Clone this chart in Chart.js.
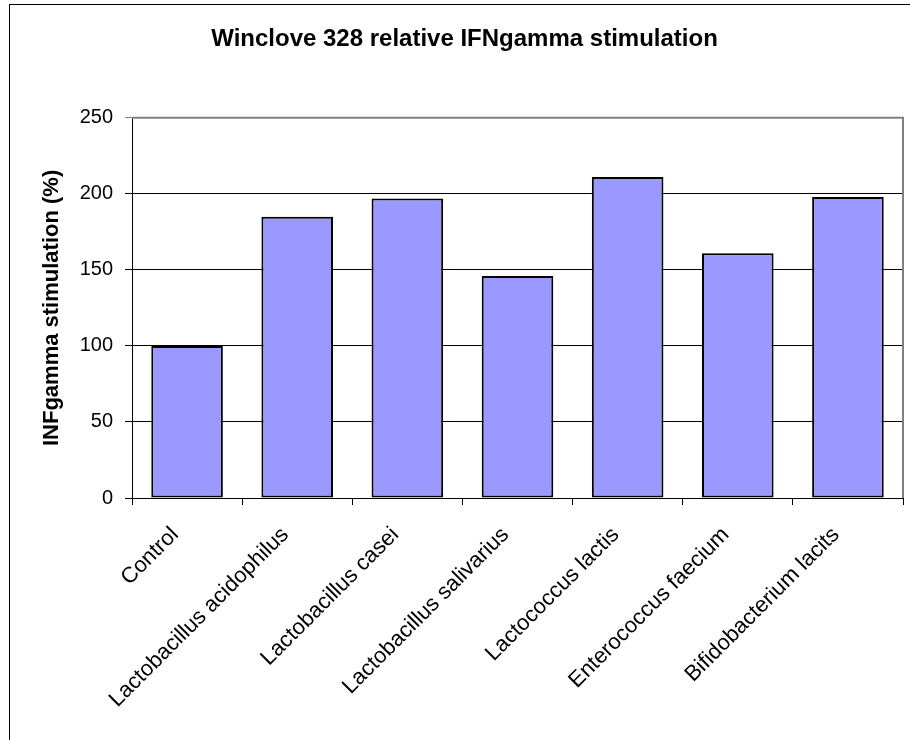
<!DOCTYPE html>
<html>
<head>
<meta charset="utf-8">
<script src="https://cdn.jsdelivr.net/npm/chart.js@4.4.0/dist/chart.umd.min.js"></script>
<style>
  html, body { margin: 0; padding: 0; background: #fff; }
  #wrap { position: relative; width: 910px; height: 740px; }
  #frame { position: absolute; left: 9px; top: 4px; width: 920px; height: 760px; border: 1.5px solid #000; box-sizing: border-box; pointer-events: none; }
</style>
</head>
<body>
<div id="wrap">
  <canvas id="barChart" width="910" height="740"></canvas>
  <div id="frame"></div>
</div>
<script>
const strains = ["Control", "Lactobacillus acidophilus", "Lactobacillus casei", "Lactobacillus salivarius",
  "Lactococcus lactis", "Enterococcus faecium", "Bifidobacterium lacits"];
const stimulation = [100, 185, 197, 146, 211, 161, 198];
const yTicks = [0, 50, 100, 150, 200, 250];

// grey plot-area frame on top and right, like the Excel original
const plotFrame = {
  id: "plotFrame",
  beforeDatasetsDraw(chart) {
    const { ctx, chartArea: a } = chart;
    ctx.save();
    ctx.strokeStyle = "#808080";
    ctx.lineWidth = 2;
    ctx.beginPath();
    ctx.moveTo(a.left, a.top);
    ctx.lineTo(a.right, a.top);
    ctx.lineTo(a.right, a.bottom);
    ctx.stroke();
    ctx.restore();
  }
};

new Chart(document.getElementById("barChart"), {
  type: "bar",
  data: {
    labels: strains,
    datasets: [{
      data: stimulation,
      backgroundColor: "#9999FF",
      borderColor: "#000000",
      borderWidth: 2,
      borderSkipped: false,
      barPercentage: 0.65,
      categoryPercentage: 1
    }]
  },
  options: {
    responsive: false,
    animation: false,
    layout: { padding: { left: 26, right: 7, top: 0, bottom: 0 } },
    scales: {
      x: {
        grid: { offset: true, drawOnChartArea: false, color: "#000", tickLength: 7 },
        border: { color: "#000", width: 1 },
        ticks: {
          autoSkip: false, minRotation: 45, maxRotation: 45, labelOffset: -12, padding: 17,
          color: "#000", font: { family: "'Liberation Sans', Arial", size: 22 }
        },
        afterFit(scale) { scale.height = 242; }
      },
      y: {
        min: 0, max: 250,
        afterBuildTicks(scale) { scale.ticks = yTicks.map(v => ({ value: v })); },
        grid: {
          color: ctx => (ctx.tick && ctx.tick.value === 250 ? "#808080" : "#000"),
          tickLength: 7
        },
        border: { color: "#000", width: 1 },
        ticks: { padding: 12, color: "#000", font: { family: "'Liberation Sans', Arial", size: 20 } },
        title: {
          display: true, text: "INFgamma stimulation (%)", color: "#000",
          font: { family: "'Liberation Sans', Arial", size: 22, weight: "bold" },
          padding: { top: 13, bottom: 0 }
        },
        afterFit(scale) { scale.width = 106; }
      }
    },
    plugins: {
      legend: { display: false },
      tooltip: { enabled: false },
      title: {
        display: true, text: "Winclove 328 relative IFNgamma stimulation", color: "#000",
        font: { family: "'Liberation Sans', Arial", size: 24, weight: "bold" },
        padding: { top: 25, bottom: 64 }
      }
    }
  },
  plugins: [plotFrame]
});
</script>
</body>
</html>
